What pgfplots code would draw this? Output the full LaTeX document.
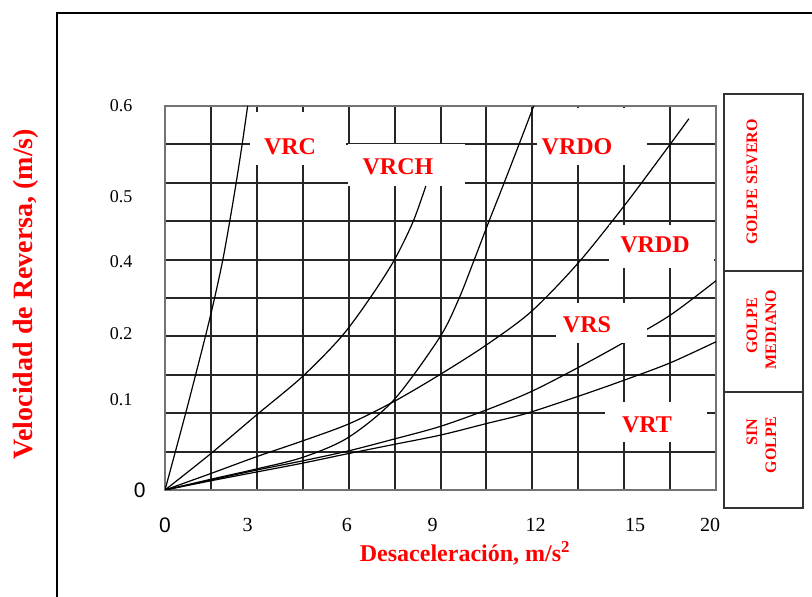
\documentclass[border=0pt]{standalone}
\usepackage{pgfplots}
\pgfplotsset{compat=1.18}
\usepackage{fontspec}
\setmainfont{Liberation Serif}
\setsansfont{Liberation Sans}
\definecolor{lblred}{RGB}{255,0,0}
\begin{document}
\begin{tikzpicture}[x=1pt,y=1pt,
  lbl/.style={text=lblred, font=\fontsize{24}{24}\selectfont\bfseries, inner sep=0pt},
  box/.style={text=lblred, font=\fontsize{16}{18}\selectfont\bfseries, rotate=90, inner sep=0pt}]
\path[use as bounding box] (0,0) rectangle (812,597);
\clip (0,0) rectangle (812,597);
\fill[white] (0,0) rectangle (812,597);
\draw[line width=2.5pt] (57,-20) -- (57,584) -- (840,584);
\coordinate (O) at (165,107);
\begin{axis}[at={(O)}, anchor=south west, scale only axis,
  width=551pt, height=384pt,
  xmin=0, xmax=12, ymin=0, ymax=10,
  xtick={0,1,...,12}, ytick={0,1,...,10},
  xticklabels={}, yticklabels={},
  major tick length=0pt,
  grid=major,
  grid style={black!85, line width=2pt},
  major grid style={black!85, line width=2pt},
  axis line style={black!55, line width=2pt},
  extra x ticks={0,1.80,3.96,5.83,8.07,10.24,11.87},
  extra x tick labels={{\sffamily\fontsize{21}{21}\selectfont 0},3,6,9,12,15,20},
  extra y ticks={0,2.34,4.07,5.94,7.63,10},
  extra y tick labels={{\sffamily\fontsize{21}{21}\selectfont 0\hspace*{-13pt}},0.1,0.2,0.4,0.5,0.6},
  extra tick style={grid=none, major tick length=0pt},
  xticklabel style={anchor=center, yshift=-35pt, font=\fontsize{20}{20}\selectfont},
  yticklabel style={anchor=east, xshift=-29pt, font=\fontsize{18}{18}\selectfont},
]
% VRC
\addplot[black, line width=1.2pt, smooth] coordinates {(0,0)(0.45,2)(0.88,4)(1.08,5)(1.26,6)(1.41,7)(1.55,8)(1.68,9)(1.80,10)};
% VRCH
\addplot[black, line width=1.2pt, smooth] coordinates {(0,0)(1.0,0.95)(1.99,1.95)(2.99,2.95)(3.84,3.99)(4.46,4.99)(4.99,5.98)(5.4,6.98)(5.69,7.95)};
% VRDO
\addplot[black, line width=1.2pt, smooth] coordinates {(0,0)(1,0.28)(2,0.55)(3,0.85)(3.98,1.36)(4.98,2.34)(5.98,3.97)(6.40,4.98)(6.73,5.98)(7.05,6.98)(7.38,7.98)(7.71,9.0)(8.03,10)};
% VRDD
\addplot[black, line width=1.2pt, smooth] coordinates {(0,0)(1,0.43)(2,0.87)(3,1.28)(4,1.72)(4.98,2.3)(5.98,3.0)(6.99,3.77)(7.97,4.64)(8.99,5.9)(10,7.4)(11,9.0)(11.41,9.67)};
% VRS
\addplot[black, line width=1.2pt, smooth] coordinates {(0,0)(1,0.26)(2,0.52)(3,0.76)(4,1.02)(5,1.33)(5.98,1.65)(6.99,2.08)(7.97,2.56)(9,3.19)(9.96,3.82)(11,4.55)(12,5.45)};
% VRT
\addplot[black, line width=1.2pt, smooth] coordinates {(0,0)(1,0.24)(2,0.47)(3,0.7)(4,0.95)(5,1.19)(6,1.43)(7,1.73)(7.86,1.99)(9,2.44)(10,2.86)(11,3.31)(12,3.86)};
\end{axis}
% label boxes
\fill[white] (250,432) rectangle (346,485); \node[lbl] at (290,450) {VRC};
\fill[white] (348,411) rectangle (465,453); \node[lbl] at (398,430) {VRCH};
\fill[white] (537,432) rectangle (647,489); \node[lbl] at (577,450) {VRDO};
\fill[white] (609,329) rectangle (714,372); \node[lbl] at (655,352) {VRDD};
\fill[white] (556,254) rectangle (647,294); \node[lbl] at (587,272) {VRS};
\fill[white] (605,155) rectangle (707,195); \node[lbl] at (647,172) {VRT};
% right side boxes
\draw[black!80, line width=1.4pt] (724,89) rectangle (803,503);
\draw[black!80, line width=1.4pt] (724,326) -- (803,326);
\draw[black!80, line width=1.4pt] (724,205) -- (803,205);
\node[box] at (752,415) {GOLPE SEVERO};
\node[box] at (752,271) {GOLPE};
\node[box] at (771,267) {MEDIANO};
\node[box] at (752,165) {SIN};
\node[box] at (771,152) {GOLPE};
% axis titles
\node[rotate=90, text=lblred, font=\fontsize{28}{28}\selectfont\bfseries] at (26,303) {Velocidad de Reversa, (m/s)};
\node[anchor=base, text=lblred, font=\fontsize{24}{24}\selectfont\bfseries] at (465,35) {Desaceleración, m/s\textsuperscript{2}};
\end{tikzpicture}
\end{document}
